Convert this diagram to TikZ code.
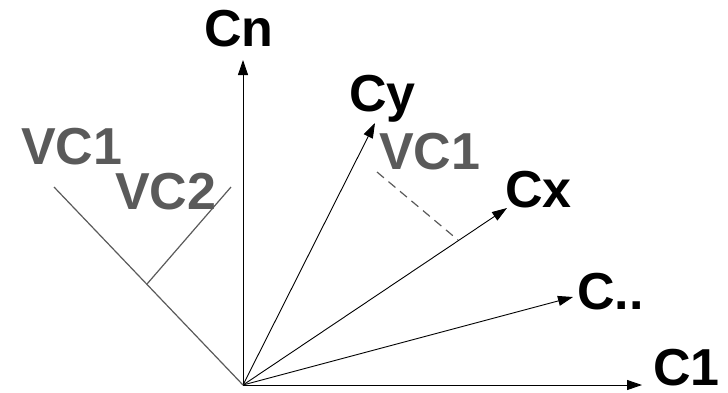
\documentclass[tikz,border=0pt]{standalone}
\usepackage{fontspec}
\setmainfont{Liberation Sans}
\usetikzlibrary{arrows.meta}
\definecolor{vgray}{HTML}{5A5A5A}
\begin{document}
\begin{tikzpicture}[x=1pt,y=-1pt,
  lbl/.style={anchor=base west,inner sep=0pt,font=\fontsize{52}{56}\selectfont\bfseries},
  glbl/.style={lbl,text=vgray},
  axis/.style={line width=0.9pt,-{Triangle[length=15pt,width=10pt]}},
  gline/.style={line width=1.2pt,draw=vgray}]
\useasboundingbox (0,0) rectangle (728,392);
\coordinate (O) at (243,385);
\coordinate (tn) at (243,60);
\coordinate (ty) at (375,123);
\coordinate (tx) at (507,208);
\coordinate (td) at (573,297);
\coordinate (t1) at (642,385);
\node[lbl] (Cn) at (204,46) {Cn};
\node[lbl] (Cy) at (349,111) {Cy};
\node[lbl] (Cx) at (505,207) {Cx};
\node[lbl] (Cd) at (577,309) {C..};
\node[lbl,text depth=0pt] (C1) at (653,385) {C1};
\node[glbl] (VCa) at (379,169) {VC1};
\node[glbl] (VCl) at (21,164) {VC1};
\node[glbl] (VCb) at (115,209) {VC2};
\draw[axis] (O) -- (tn);
\draw[axis] (O) -- (ty);
\draw[axis] (O) -- (tx);
\draw[axis] (O) -- (td);
\draw[axis] (O) -- (t1);
\coordinate (va) at (54,187);
\coordinate (vb1) at (147,284);
\coordinate (vb2) at (231,187);
\draw[gline] (O) -- (va);
\draw[gline] (vb1) -- (vb2);
\coordinate (d1) at (377,172);
\coordinate (d2) at (458,240);
\draw[gline,dashed,dash pattern=on 9pt off 6pt] (d1) -- (d2);
\end{tikzpicture}
\end{document}
